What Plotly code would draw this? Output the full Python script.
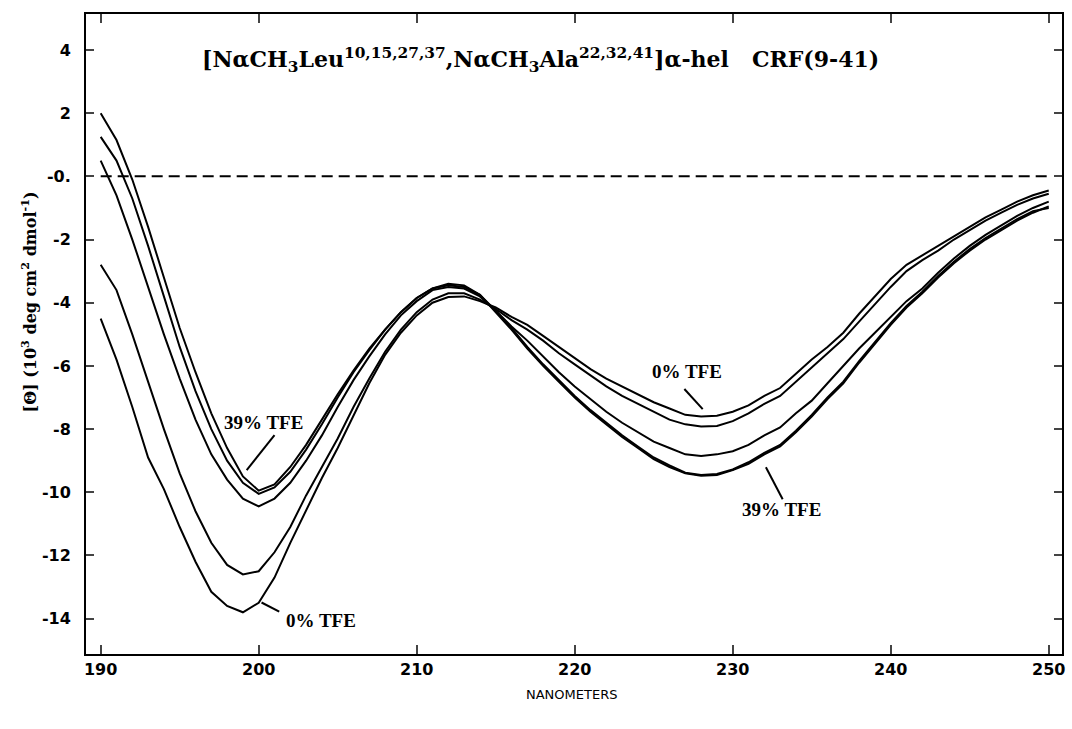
import plotly.graph_objects as go

# Wavelength grid (nm), one reading per nanometre
wavelength = list(range(190, 251))

# Mean residue ellipticity, 10^3 deg cm^2 dmol^-1, per TFE level
theta_39 = [2.0, 1.15, -0.1, -1.6, -3.2, -4.8, -6.2, -7.5, -8.6, -9.5,
            -9.95, -9.75, -9.2, -8.5, -7.7, -6.9, -6.15, -5.45, -4.85, -4.3,
            -3.85, -3.55, -3.4, -3.45, -3.75, -4.3, -4.85, -5.45, -6.0, -6.5,
            -7.0, -7.45, -7.85, -8.25, -8.6, -8.95, -9.2, -9.4, -9.48, -9.45,
            -9.3, -9.1, -8.8, -8.55, -8.1, -7.6, -7.05, -6.55, -5.9, -5.3,
            -4.7, -4.15, -3.7, -3.2, -2.75, -2.35, -2.0, -1.7, -1.4, -1.15,
            -0.95]
theta_b = [1.25, 0.5, -0.7, -2.2, -3.8, -5.4, -6.8, -8.0, -9.0, -9.7,
           -10.05, -9.85, -9.35, -8.65, -7.85, -7.0, -6.2, -5.5, -4.85, -4.3,
           -3.85, -3.55, -3.45, -3.5, -3.75, -4.25, -4.8, -5.4, -5.95, -6.45,
           -6.95, -7.4, -7.8, -8.2, -8.55, -8.9, -9.15, -9.38, -9.45, -9.42,
           -9.28, -9.05, -8.75, -8.5, -8.05, -7.55, -7.0, -6.5, -5.85, -5.25,
           -4.65, -4.1, -3.65, -3.15, -2.7, -2.3, -1.95, -1.65, -1.35, -1.1,
           -1.0]
theta_c = [0.5, -0.6, -2.0, -3.5, -5.0, -6.4, -7.7, -8.8, -9.6, -10.2,
           -10.45, -10.2, -9.7, -9.0, -8.2, -7.3, -6.45, -5.7, -5.0, -4.4,
           -3.95, -3.6, -3.5, -3.55, -3.8, -4.25, -4.75, -5.2, -5.7, -6.2,
           -6.65, -7.05, -7.45, -7.8, -8.1, -8.4, -8.6, -8.8, -8.85, -8.8,
           -8.7, -8.5, -8.2, -7.95, -7.5, -7.1, -6.55, -6.0, -5.45, -4.95,
           -4.45, -3.95, -3.55, -3.05, -2.6, -2.2, -1.85, -1.55, -1.25, -1.0,
           -0.8]
theta_d = [-2.8, -3.6, -5.0, -6.5, -8.0, -9.4, -10.6, -11.6, -12.3, -12.6,
           -12.5, -11.9, -11.1, -10.1, -9.2, -8.3, -7.3, -6.4, -5.55, -4.85,
           -4.3, -3.9, -3.7, -3.7, -3.9, -4.2, -4.55, -4.85, -5.2, -5.6,
           -5.95, -6.3, -6.65, -6.95, -7.2, -7.45, -7.7, -7.85, -7.92, -7.9,
           -7.75, -7.5, -7.2, -6.95, -6.5, -6.05, -5.6, -5.15, -4.6, -4.05,
           -3.5, -3.0, -2.65, -2.35, -2.0, -1.7, -1.4, -1.15, -0.9, -0.7,
           -0.55]
theta_0 = [-4.5, -5.8, -7.3, -8.9, -9.9, -11.1, -12.2, -13.15, -13.6, -13.8,
           -13.5, -12.7, -11.6, -10.55, -9.55, -8.6, -7.55, -6.55, -5.65, -4.95,
           -4.4, -4.0, -3.82, -3.8, -3.95, -4.15, -4.45, -4.7, -5.05, -5.4,
           -5.75, -6.1, -6.4, -6.65, -6.9, -7.15, -7.35, -7.55, -7.6, -7.58,
           -7.45, -7.25, -6.95, -6.7, -6.25, -5.8, -5.4, -4.95, -4.35, -3.8,
           -3.25, -2.8, -2.5, -2.2, -1.9, -1.6, -1.3, -1.05, -0.8, -0.6,
           -0.45]

series = [theta_39, theta_b, theta_c, theta_d, theta_0]

x_ticks = [190, 200, 210, 220, 230, 240, 250]
y_ticks = [4, 2, 0, -2, -4, -6, -8, -10, -12, -14]
y_tick_text = ["4", "2", "-0.", "-2", "-4", "-6", "-8", "-10", "-12", "-14"]

fig = go.Figure()

# zero baseline
fig.add_trace(go.Scatter(
    x=[wavelength[0], wavelength[-1]], y=[0, 0], mode="lines",
    line=dict(color="black", width=2, dash="11px,6px"),
    hoverinfo="skip", showlegend=False))

for s in series:
    fig.add_trace(go.Scatter(
        x=wavelength, y=s, mode="lines",
        line=dict(color="black", width=2),
        showlegend=False))

serif = "Liberation Serif"
wide_serif = "DejaVu Serif"
sans = "DejaVu Sans"

# labels with leader lines
labels = [
    dict(text="39% TFE", tx=200.3, ty=-7.8, x0=201.0, y0=-8.19, x1=199.24, y1=-9.30),
    dict(text="0% TFE", tx=203.96, ty=-14.06, x0=200.18, y0=-13.49, x1=201.3, y1=-13.78),
    dict(text="0% TFE", tx=227.1, ty=-6.19, x0=226.94, y0=-6.73, x1=228.1, y1=-7.37),
    dict(text="39% TFE", tx=233.1, ty=-10.54, x0=232.1, y0=-9.21, x1=233.16, y1=-10.22),
]
for lb in labels:
    fig.add_annotation(x=lb["tx"], y=lb["ty"], xref="x", yref="y",
                       text=lb["text"], showarrow=False,
                       font=dict(family=serif, size=19, color="black", weight="bold"))
    fig.add_shape(type="line", xref="x", yref="y",
                  x0=lb["x0"], y0=lb["y0"], x1=lb["x1"], y1=lb["y1"],
                  line=dict(color="black", width=2))

# title inside the frame
fig.add_annotation(
    xref="paper", yref="paper", x=0.466, y=0.928, xanchor="center", yanchor="middle",
    text="[NαCH<sub>3</sub>Leu<sup>10,15,27,37</sup>,NαCH<sub>3</sub>Ala<sup>22,32,41</sup>]α-hel&nbsp;&nbsp;&nbsp;CRF(9-41)",
    showarrow=False, font=dict(family=wide_serif, size=22, color="black", weight="bold"))

# axis titles
fig.add_annotation(
    xref="paper", yref="paper", x=-0.058, y=0.55, xanchor="center", yanchor="middle",
    textangle=-90,
    text="[Θ] (10<sup>3</sup> deg cm<sup>2</sup> dmol<sup>-1</sup>)",
    showarrow=False, font=dict(family=wide_serif, size=16, color="black", weight="bold"))
fig.add_annotation(
    xref="paper", yref="paper", x=0.497, y=-0.048, xanchor="center", yanchor="top",
    text="NANOMETERS", showarrow=False,
    font=dict(family=sans, size=13, color="black"))

fig.update_xaxes(
    range=[189.07, 250.84], tickvals=x_ticks, ticks="inside", ticklen=9, tickwidth=2,
    showline=True, linewidth=2, linecolor="black", mirror="ticks",
    showgrid=False, zeroline=False,
    tickfont=dict(family=sans, size=16, color="black", weight="bold"))
fig.update_yaxes(
    range=[-15.12, 5.14], tickvals=y_ticks, ticktext=y_tick_text,
    ticks="inside", ticklen=8, tickwidth=2,
    showline=True, linewidth=2, linecolor="black", mirror="ticks",
    showgrid=False, zeroline=False, ticklabelstandoff=10,
    tickfont=dict(family=sans, size=16, color="black", weight="bold"))

fig.update_layout(
    width=1072, height=729,
    margin=dict(l=86, r=7, t=14, b=75),
    paper_bgcolor="white", plot_bgcolor="white")

fig.write_html("out.html")
